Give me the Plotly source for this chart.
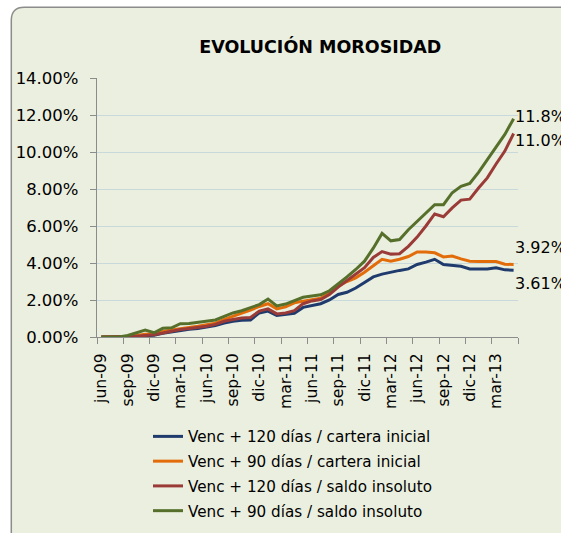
import plotly.graph_objects as go

months = ["jun-09","jul-09","ago-09","sep-09","oct-09","nov-09","dic-09",
          "ene-10","feb-10","mar-10","abr-10","may-10","jun-10","jul-10","ago-10","sep-10","oct-10","nov-10","dic-10",
          "ene-11","feb-11","mar-11","abr-11","may-11","jun-11","jul-11","ago-11","sep-11","oct-11","nov-11","dic-11",
          "ene-12","feb-12","mar-12","abr-12","may-12","jun-12","jul-12","ago-12","sep-12","oct-12","nov-12","dic-12",
          "ene-13","feb-13","mar-13","abr-13","may-13"]

venc120_cartera = [0, 0, 0, 0, 0.03, 0.06, 0.10, 0.20, 0.28, 0.36, 0.42, 0.46, 0.52, 0.62, 0.75, 0.85,
                   0.90, 0.92, 1.30, 1.40, 1.16, 1.20, 1.28, 1.60, 1.72, 1.80, 2.00, 2.30, 2.42, 2.65,
                   2.95, 3.25, 3.40, 3.52, 3.60, 3.68, 3.92, 4.05, 4.20, 3.92, 3.86, 3.82, 3.68, 3.68,
                   3.68, 3.74, 3.63, 3.61]
venc90_cartera = [0, 0, 0, 0.02, 0.08, 0.15, 0.17, 0.30, 0.38, 0.47, 0.52, 0.58, 0.65, 0.75, 0.95, 1.12,
                  1.25, 1.45, 1.65, 1.80, 1.52, 1.63, 1.85, 1.95, 2.02, 2.10, 2.40, 2.75, 3.00, 3.20,
                  3.50, 3.85, 4.20, 4.10, 4.20, 4.35, 4.60, 4.60, 4.55, 4.33, 4.38, 4.22, 4.10, 4.08,
                  4.10, 4.08, 3.93, 3.92]
venc120_saldo = [0, 0, 0, 0.01, 0.04, 0.08, 0.12, 0.22, 0.32, 0.40, 0.46, 0.50, 0.58, 0.68, 0.85, 0.95,
                 1.03, 1.05, 1.40, 1.52, 1.25, 1.30, 1.42, 1.80, 1.95, 2.03, 2.30, 2.70, 3.05, 3.35,
                 3.75, 4.30, 4.62, 4.48, 4.50, 4.90, 5.40, 6.00, 6.65, 6.50, 6.98, 7.40, 7.45, 8.05,
                 8.60, 9.35, 10.05, 11.00]
venc90_saldo = [0, 0, 0, 0.08, 0.22, 0.37, 0.23, 0.47, 0.50, 0.72, 0.73, 0.80, 0.88, 0.92, 1.12, 1.30,
                1.42, 1.60, 1.75, 2.05, 1.68, 1.78, 1.97, 2.15, 2.22, 2.28, 2.50, 2.85, 3.25, 3.65,
                4.10, 4.80, 5.60, 5.20, 5.27, 5.80, 6.25, 6.70, 7.15, 7.15, 7.80, 8.15, 8.30, 8.90,
                9.60, 10.30, 10.95, 11.80]

series_names = ["Venc + 120 días / cartera inicial", "Venc + 90 días / cartera inicial",
                "Venc + 120 días / saldo insoluto", "Venc + 90 días / saldo insoluto"]
series_values = [venc120_cartera, venc90_cartera, venc120_saldo, venc90_saldo]
series_colors = ["#1F3B6E", "#E36C0A", "#9B3B38", "#56702B"]
end_labels = ["3.61%", "3.92%", "11.0%", "11.8%"]
end_label_shift = [-13, 17, -7, 2]

y_tickvals = [0, 2, 4, 6, 8, 10, 12, 14]
y_ticktext = ["0.00%", "2.00%", "4.00%", "6.00%", "8.00%", "10.00%", "12.00%", "14.00%"]

x_idx = list(range(len(months)))
x_tickvals = x_idx[::3]
x_ticktext = months[::3]

FONT = "DejaVu Sans"
W, H = 561, 533
PL, PR, PT, PB = 96.7, 517.7, 78.3, 337.3   # plot area in pixels
ML, MT = PL, PT
PW, PH = PR - PL, PB - PT
MR = W - ML - PW
MB = H - MT - PH

def px(xp):
    return (xp - PL) / PW

def py(yp):
    return (PB - yp) / PH

fig = go.Figure()
for k, (name, vals, col) in enumerate(zip(series_names, series_values, series_colors)):
    fig.add_trace(go.Scatter(x=x_idx, y=vals, mode="lines", name=name, legendgroup=f"g{k}",
                             line=dict(color=col, width=3), hoverinfo="skip"))

for vals, lab, sh in zip(series_values, end_labels, end_label_shift):
    fig.add_annotation(x=x_idx[-1], y=vals[-1], text=lab, showarrow=False,
                       xanchor="left", yanchor="middle", xshift=-1, yshift=sh,
                       font=dict(family=FONT, size=16, color="#000000"))

# rounded chart border (right and bottom edges lie outside the picture, as in the reference)
x0, y0, x1, y1, r = 11, 7.5, 620, 570, 13
path = (f"M {px(x0)},{py(y0 + r)} Q {px(x0)},{py(y0)} {px(x0 + r)},{py(y0)} "
        f"L {px(x1)},{py(y0)} L {px(x1)},{py(y1)} L {px(x0 + r)},{py(y1)} "
        f"Q {px(x0)},{py(y1)} {px(x0)},{py(y1 - r)} Z")
fig.add_shape(type="path", path=path, xref="paper", yref="paper", layer="below",
              fillcolor="#EBEFDF", line=dict(color="#8C8C8C", width=1.5))

fig.update_layout(
    width=W, height=H,
    margin=dict(l=ML, r=MR, t=MT, b=MB, pad=0, autoexpand=False),
    paper_bgcolor="#FFFFFF", plot_bgcolor="rgba(0,0,0,0)",
    font=dict(family=FONT, size=15, color="#000000"),
    title=dict(text="<b>EVOLUCIÓN MOROSIDAD</b>", xref="paper", x=px(320), xanchor="center",
               y=1 - 47 / H, yanchor="middle",
               font=dict(family=FONT, size=17.5, color="#000000")),
    showlegend=True,
    legend=dict(xref="container", yref="container", x=148 / W, y=1 - 420 / H,
                xanchor="left", yanchor="top",
                bgcolor="rgba(0,0,0,0)", font=dict(family=FONT, size=15.2, color="#000000"),
                tracegroupgap=2, itemwidth=30),
    xaxis=dict(range=[-0.5, len(months) - 0.5], tickmode="array", tickvals=x_tickvals,
               ticktext=x_ticktext, tickangle=-90, ticks="", showgrid=False, zeroline=False,
               showline=True, linecolor="#8C8C8C", linewidth=1.3, ticklabelstandoff=9,
               tickfont=dict(family=FONT, size=15.6, color="#000000"), automargin=False,
               minor=dict(tick0=-0.5, dtick=3, ticks="outside", ticklen=6, tickcolor="#8C8C8C",
                          tickwidth=1.3, showgrid=False),
               fixedrange=True),
    yaxis=dict(range=[0, 14], tickmode="array", tickvals=y_tickvals, ticktext=y_ticktext,
               ticks="outside", ticklen=6, tickcolor="#8C8C8C", tickwidth=1.3,
               showline=True, linecolor="#8C8C8C", linewidth=1.3, automargin=False,
               showgrid=True, gridcolor="#C9D9DB", gridwidth=1.3, zeroline=False,
               tickfont=dict(family=FONT, size=16.5, color="#000000"),
               ticklabelstandoff=8, fixedrange=True),
)

fig.write_html("out.html", config={"displayModeBar": False},
               post_script="document.body.style.margin='0';document.body.style.overflow='hidden';")
